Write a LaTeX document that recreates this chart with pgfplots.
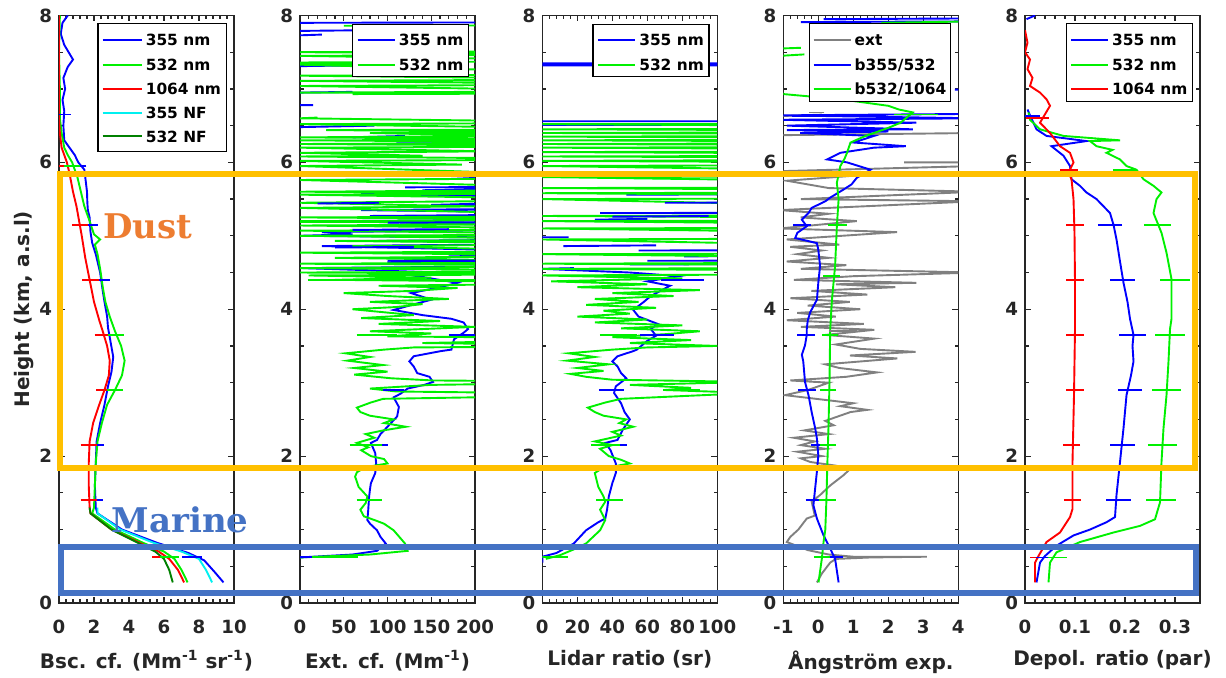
\documentclass[border=0pt]{standalone}
\usepackage{fontspec}
\setmainfont{DejaVu Sans}
\newfontfamily\serifbold{DejaVu Serif}
\usepackage{pgfplots}
\pgfplotsset{compat=1.18}
\definecolor{axc}{RGB}{38,38,38}
\definecolor{mblue}{RGB}{0,0,255}
\definecolor{mgreen}{RGB}{0,240,0}
\definecolor{mred}{RGB}{255,0,0}
\definecolor{mcyan}{RGB}{0,240,240}
\definecolor{mdkgreen}{RGB}{0,128,0}
\definecolor{mgray}{RGB}{128,128,128}
\definecolor{boxorange}{RGB}{255,192,0}
\definecolor{boxblue}{RGB}{68,114,196}
\definecolor{dusttxt}{RGB}{237,125,49}
\newcommand{\legfont}{\fontsize{7.7}{9}\selectfont\bfseries}
% legend frame: x-left, x-right, y-top, y-bottom (pt, relative to upper right corner of axis)
\newcommand{\legframe}[4]{\draw[draw=black, fill=white, line width=0.6pt] ([xshift=#1pt,yshift=#3pt]rel axis cs:1,1) rectangle ([xshift=#2pt,yshift=#4pt]rel axis cs:1,1);}
% legend entry: colour, line start, line end, text start, y, text
\newcommand{\legentry}[6]{\draw[#1, line width=1pt] ([xshift=#2pt,yshift=#5pt]rel axis cs:1,1) -- ([xshift=#3pt,yshift=#5pt]rel axis cs:1,1);
  \node[anchor=base west, inner sep=0pt, font=\legfont, text=black] at ([xshift=#4pt,yshift=#5pt-2.8pt]rel axis cs:1,1) {#6};}
\pgfplotsset{
  panel/.style={
    scale only axis, width=87.5pt, height=293.75pt, anchor=south west,
    ymin=0, ymax=8, ytick={0,2,4,6,8}, minor y tick num=3, minor x tick num=4,
    tick align=inside,
    axis line style={draw=axc, line width=0.7pt},
    every tick/.style={draw=axc, line width=0.6pt},
    major tick length=3pt, minor tick length=1.8pt,
    tick label style={font=\fontsize{9.1}{10}\selectfont\bfseries, text=axc},
    xticklabel shift=5pt,
    label style={font=\fontsize{10}{12}\selectfont\bfseries, text=axc},
    xlabel style={yshift=-1.5pt},
    ylabel shift=-4pt,
    /pgf/number format/assume math mode=true,
    unbounded coords=jump,
    every axis plot/.append style={line width=0.95pt},
  },
  eb/.style={forget plot, draw=none, mark=none,
    error bars/.cd, x dir=both, x explicit,
    error bar style={draw=#1, line width=0.85pt, solid},
    error mark options={draw=#1, mark size=3.6pt, line width=0.85pt}},
}
\begin{document}
\begin{tikzpicture}
\path[use as bounding box] (0,0) rectangle (613pt,339pt);
% ---------------- Panel 1: backscatter ----------------
\begin{axis}[panel, at={(29.5pt,37.5pt)}, xmin=0, xmax=10, xtick={0,2,4,6,8,10},
  xlabel={Bsc. cf. (Mm\textsuperscript{-1} sr\textsuperscript{-1})},
  ylabel={Height (km, a.s.l)}]
\addplot[mblue] coordinates {(9.4,0.28)(8.9,0.42)(8.3,0.58)(7.4,0.68)(5.6,0.82)(3.6,1.0)(2.2,1.22)(2.1,1.3)(2.05,1.6)(2.1,1.9)(2.15,2.2)(2.35,2.45)(2.6,2.7)(2.8,2.95)(3.0,3.15)(3.1,3.35)(2.95,3.55)(2.8,3.75)(2.75,3.9)(2.6,4.1)(2.5,4.25)(2.35,4.5)(2.2,4.65)(2.1,4.75)(1.9,4.9)(1.8,5.05)(1.75,5.25)(1.65,5.35)(1.62,5.45)(1.6,5.6)(1.55,5.7)(1.5,5.8)(1.45,5.9)(1.1,6.0)(0.9,6.1)(0.6,6.2)(0.3,6.3)(0.25,6.5)(0.3,6.7)(0.2,6.85)(0.35,7.0)(0.25,7.15)(0.5,7.3)(0.8,7.4)(0.55,7.5)(0.3,7.6)(0.1,7.75)(0.2,7.9)(0.5,8.0)};
\addplot[mgreen] coordinates {(7.35,0.28)(7.0,0.45)(6.6,0.6)(6.0,0.7)(4.8,0.82)(3.2,1.0)(1.9,1.22)(2.0,1.3)(2.05,1.6)(2.1,1.9)(2.2,2.2)(2.45,2.45)(2.75,2.7)(3.2,2.9)(3.6,3.1)(3.75,3.3)(3.55,3.5)(3.2,3.7)(2.9,3.9)(2.65,4.1)(2.5,4.3)(2.35,4.55)(2.2,4.75)(2.05,4.88)(2.35,4.95)(2.0,5.02)(1.75,5.2)(1.45,5.4)(1.25,5.6)(1.05,5.8)(0.75,6.0)(0.5,6.1)(0.3,6.2)(0.15,6.4)(0.05,6.6)(0.05,7.0)(0.0,7.5)(0.05,8.0)};
\addplot[mred] coordinates {(7.15,0.28)(6.8,0.45)(6.3,0.6)(5.7,0.7)(4.6,0.82)(3.0,1.0)(1.8,1.22)(1.75,1.3)(1.7,1.6)(1.7,1.9)(1.75,2.2)(1.95,2.45)(2.3,2.7)(2.6,2.9)(2.85,3.1)(2.9,3.3)(2.75,3.5)(2.5,3.7)(2.3,3.85)(2.0,4.1)(1.75,4.4)(1.5,4.7)(1.3,5.0)(1.15,5.2)(1.0,5.4)(0.8,5.6)(0.6,5.85)(0.45,6.0)(0.3,6.1)(0.15,6.2)(0.05,6.4)(0.0,6.6)(0.0,7.0)(0.0,7.5)(0.0,8.0)};
\addplot[mcyan] coordinates {(8.75,0.28)(8.4,0.45)(8.0,0.6)(7.0,0.7)(5.4,0.82)(3.5,1.0)(2.2,1.22)(2.2,1.3)};
\addplot[mdkgreen] coordinates {(6.5,0.28)(6.3,0.45)(6.0,0.6)(5.5,0.7)(4.5,0.82)(3.0,1.0)(1.8,1.22)(1.75,1.3)};
\addplot[eb=mblue] coordinates {(7.6,0.63) +- (0.15,0) (2.05,1.4) +- (0.05,0) (2.1,2.15) +- (0.05,0) (2.75,2.9) +- (0.05,0) (2.85,3.65) +- (0.05,0) (2.43,4.4) +- (0.05,0) (1.76,5.15) +- (0.05,0) (1.1,5.95) +- (0.05,0) (0.2,6.65) +- (0.05,0)};
\addplot[eb=mred] coordinates {(5.85,0.63) +- (0.1,0) (1.7,1.4) +- (0.05,0) (1.7,2.15) +- (0.05,0) (2.6,2.9) +- (0.05,0) (2.5,3.65) +- (0.05,0) (1.8,4.4) +- (0.05,0) (1.2,5.15) +- (0.05,0) (0.45,5.95) +- (0.05,0)};
\addplot[eb=mgreen] coordinates {(6.3,0.63) +- (0.12,0) (3.2,2.9) +- (0.05,0) (3.25,3.65) +- (0.05,0) (0.75,5.95) +- (0.05,0)};
\legframe{-68}{-3.8}{-4.15}{-68}
\legentry{mblue}{-65.65}{-46.15}{-44.3}{-12.4}{355 nm}
\legentry{mgreen}{-65.65}{-46.15}{-44.3}{-24.65}{532 nm}
\legentry{mred}{-65.65}{-46.15}{-44.3}{-36.8}{1064 nm}
\legentry{mcyan}{-65.65}{-46.15}{-44.3}{-48.8}{355 NF}
\legentry{mdkgreen}{-65.65}{-46.15}{-44.3}{-60.5}{532 NF}
\coordinate (dustpos) at (axis cs:5.06,5.13);
\coordinate (marpos) at (axis cs:6.91,1.13);
\coordinate (oTL) at (axis cs:0.07,5.84);
\coordinate (bTL) at (axis cs:0.1,0.76);
\end{axis}
% ---------------- Panel 2: extinction ----------------
\begin{axis}[panel, at={(150pt,37.5pt)}, xmin=0, xmax=200, xtick={0,50,100,150,200},
  xlabel={Ext. cf. (Mm\textsuperscript{-1})}]
\addplot[mblue] coordinates {(0,0.62)(30,0.64)(60,0.66)(88,0.71)(98,0.81)(92,0.9)(88,0.99)(80,1.08)(77,1.13)(78,1.27)(79,1.45)(80,1.55)(81,1.63)(86,1.77)(87,1.9)(86,2.04)(81,2.18)(88,2.22)(92,2.3)(100,2.4)(111,2.54)(113,2.67)(107,2.8)(115,2.85)(123,2.92)(142,2.97)(152,3.01)(148,3.08)(134,3.13)(130,3.22)(125,3.29)(130,3.36)(161,3.43)(173,3.45)(176,3.59)(187,3.68)(192,3.73)(187,3.82)(173,3.87)(140,3.92)(107,3.99)(125,4.05)(150,4.13)(127,4.22)(160,4.3)(180,4.36)(134,4.45)(160,4.5)(3,4.56)(400,4.6)(100,4.64)(400,4.68)(170,4.72)(400,4.76)(25,4.86)(400,4.9)(90,4.93)(400,4.96)(0,5.0)(60,5.02)(25,5.05)(400,5.1)(45,5.2)(400,5.23)(80,5.27)(400,5.3)(70,5.35)(400,5.38)(150,5.42)(400,5.5)(70,5.57)(400,5.59)(140,5.62)(400,5.7)(160,5.82)(400,5.85)
 (0,nan)(60,6.34)(120,6.36)(0,nan)(110,6.28)(400,6.3)(0,nan)(0,6.48)(85,6.5)(0,nan)(0,6.78)(15,6.78)(0,nan)(0,6.95)(60,6.96)(0,nan)(0,7.31)(58,7.32)(0,nan)(0,7.73)(25,7.74)(0,nan)(0,7.79)(80,7.8)(0,nan)(0,7.9)(400,7.91)};
\addplot[mgreen] coordinates {(0,0.62)(40,0.64)(80,0.66)(123,0.71)(120,0.81)(107,0.99)(96,1.08)(85,1.13)(73,1.18)(69,1.27)(75,1.36)(77,1.45)(67,1.58)(63,1.72)(65,1.78)(75,1.85)(100,1.9)(96,1.96)(81,2.0)(70,2.08)(78,2.12)(65,2.18)(85,2.25)(75,2.3)(95,2.35)(121,2.4)(96,2.45)(107,2.5)(80,2.55)(69,2.6)(65,2.66)(81,2.73)(95,2.78)(400,2.84)(110,2.88)(80,2.92)(150,2.97)(400,3.01)(152,3.03)(104,3.06)(62,3.11)(100,3.15)(62,3.2)(95,3.24)(54,3.3)(80,3.35)(52,3.4)(96,3.45)(130,3.48)(400,3.5)(140,3.54)(400,3.6)(100,3.63)(150,3.67)(80,3.7)(120,3.72)(200,3.76)(90,3.8)(160,3.84)(70,3.88)(130,3.92)(95,3.96)(60,4.0)(110,4.03)(140,4.07)(80,4.1)(170,4.14)(100,4.18)(50,4.22)(130,4.25)(180,4.29)(90,4.32)(400,4.36)(40,4.4)(150,4.43)(10,4.46)(400,4.48)
 (0,4.5)(400,4.52)(0,4.56)(400,4.59)(0,4.62)(400,4.64)(40,4.7)(400,4.73)(0,4.77)(350,4.79)(60,4.86)(400,4.89)(40,4.93)(400,4.95)(0,5.0)(400,5.02)(0,5.07)(400,5.09)(0,5.14)(300,5.16)(0,5.2)(400,5.22)(0,5.25)(400,5.27)(0,5.38)(200,5.4)(0,5.45)(400,5.49)(0,5.56)(400,5.58)(0,5.6)(400,5.63)(0,5.76)(400,5.79)(0,5.95)(185,5.97)(0,6.02)(400,6.04)(0,6.08)(140,6.09)(0,6.13)(210,6.15)(0,6.2)(400,6.22)(0,6.25)(400,6.27)(0,6.3)(400,6.31)(0,6.34)(240,6.36)(80,6.4)(400,6.4)(30,6.44)(400,6.45)(0,6.52)(400,6.54)(0,6.6)(20,6.61)
 (0,nan)(60,6.93)(400,6.94)(0,6.95)(400,6.97)(0,7.04)(400,7.06)(0,7.11)(400,7.13)(0,7.18)(400,7.2)(0,7.33)(60,7.34)(0,7.36)(400,7.38)(0,7.45)(400,7.47)(0,7.5)(400,7.52)(0,nan)(50,7.86)(400,7.87)};
\addplot[mblue] coordinates {(100,4.66)(400,4.67)(0,nan)(40,4.84)(130,4.85)(0,nan)(60,5.08)(170,5.09)(0,nan)(100,5.18)(400,5.19)(0,nan)(20,5.44)(90,5.45)(0,nan)(120,5.66)(400,5.67)};
\addplot[eb=mblue] coordinates {(3,0.63) +- (3,0) (79,1.4) +- (2,0) (89,2.15) +- (3,0) (107,2.9) +- (4,0) (185,3.65) +- (7,0) (183,4.4) +- (1.5,0)};
\addplot[eb=mgreen] coordinates {(41,0.63) +- (17,0) (79,1.4) +- (6,0) (75,2.15) +- (10,0) (88,3.65) +- (15,0) (120,4.4) +- (103,0) (49,5.18) +- (43,0)};
\legframe{-61.2}{-3.2}{-4.65}{-30.65}
\legentry{mblue}{-58.65}{-40}{-38.3}{-12.15}{355 nm}
\legentry{mgreen}{-58.65}{-40}{-38.3}{-24.65}{532 nm}
\end{axis}
% ---------------- Panel 3: lidar ratio ----------------
\begin{axis}[panel, at={(271.15pt,37.5pt)}, xmin=0, xmax=100, xtick={0,20,40,60,80,100},
  xlabel={Lidar ratio (sr)}]
\addplot[mblue] coordinates {(0,0.55)(0,0.63)(8,0.68)(18,0.81)(25,0.99)(32,1.1)(36,1.15)(37,1.27)(38,1.45)(40,1.63)(42,1.77)(42,1.9)(39,2.08)(36,2.18)(43,2.22)(46,2.36)(50,2.5)(47,2.6)(45,2.72)(41,2.86)(42,2.95)(48,3.06)(45,3.13)(43,3.22)(40,3.29)(43,3.36)(52,3.43)(54,3.45)(60,3.57)(65,3.64)(62,3.73)(66,3.8)(55,3.9)(52,3.99)(58,4.1)(62,4.18)(73,4.32)(60,4.38)(78,4.45)(50,4.5)(0,4.55)(18,4.56)
 (0,nan)(50,4.61)(400,4.63)(0,nan)(81,4.72)(400,4.74)(0,nan)(12,4.86)(65,4.87)(0,nan)(0,4.98)(15,4.98)(0,nan)(30,5.22)(60,5.23)(0,nan)(33,5.31)(400,5.32)(0,nan)(48,5.56)(400,5.58)(0,nan)(0,6.51)(400,6.51)(0,nan)(0,6.56)(400,6.56)(0,nan)(0,7.32)(400,7.32)(0,nan)(0,7.35)(400,7.35)};
\addplot[mgreen] coordinates {(2,0.6)(10,0.65)(18,0.73)(25,0.81)(33,0.99)(36,1.13)(33,1.27)(36,1.38)(35,1.45)(32,1.58)(30,1.77)(34,1.83)(50,1.9)(45,1.95)(38,2.0)(33,2.1)(40,2.15)(30,2.2)(45,2.28)(40,2.33)(52,2.4)(44,2.45)(48,2.5)(35,2.55)(30,2.6)(26,2.66)(36,2.73)(45,2.78)(120,2.86)(70,2.9)(85,2.93)(50,2.97)(120,3.01)(40,3.04)(25,3.08)(16,3.12)(35,3.16)(20,3.2)(38,3.25)(14,3.3)(30,3.35)(15,3.4)(40,3.45)(60,3.48)(100,3.5)(50,3.54)(85,3.58)(40,3.62)(70,3.66)(90,3.7)(45,3.74)(80,3.78)(30,3.82)(60,3.86)(20,3.9)(50,3.94)(35,3.98)(65,4.02)(25,4.06)(55,4.1)(30,4.14)(75,4.18)(40,4.22)(90,4.26)(20,4.3)(60,4.34)(5,4.38)(80,4.42)(0,4.46)(400,4.5)
 (0,4.55)(400,4.58)(0,4.62)(400,4.65)(0,4.75)(400,4.77)(0,4.95)(400,4.98)(0,5.1)(400,5.12)(0,5.2)(400,5.22)(0,5.27)(400,5.29)(0,5.5)(400,5.52)(0,5.58)(400,5.6)(0,5.65)(400,5.67)(0,5.8)(400,5.82)(0,5.95)(400,5.98)(0,6.02)(400,6.05)(0,6.08)(400,6.1)(0,6.14)(400,6.16)(0,6.2)(400,6.22)(0,6.25)(400,6.27)(0,6.3)(400,6.32)(0,6.35)(400,6.37)(0,6.4)(400,6.42)(0,6.45)(400,6.47)(0,6.52)(400,6.53)};
\addplot[mblue] coordinates {(60,4.66)(400,4.67)(0,nan)(55,4.8)(400,4.81)(0,nan)(40,5.26)(95,5.27)(0,nan)(70,5.45)(400,5.46)};
\addplot[eb=mblue] coordinates {(1,0.63) +- (1,0) (39,1.4) +- (2,0) (40,2.15) +- (4,0) (39.5,2.9) +- (3,0) (65.5,3.65) +- (5.5,0) (80,4.4) +- (8,0)};
\addplot[eb=mgreen] coordinates {(7,0.63) +- (3.5,0) (38.5,1.4) +- (3.5,0) (36,2.15) +- (4,0) (79.5,2.9) +- (6.5,0) (43.5,3.65) +- (6.5,0) (26,5.2) +- (23,0)};
\legframe{-62.2}{-4.2}{-4.65}{-30.65}
\legentry{mblue}{-59.7}{-41.35}{-39.2}{-12.15}{355 nm}
\legentry{mgreen}{-59.7}{-41.35}{-39.2}{-24.65}{532 nm}
\end{axis}
% ---------------- Panel 4: Angstrom ----------------
\begin{axis}[panel, at={(391.65pt,37.5pt)}, xmin=-1, xmax=4, xtick={-1,0,1,2,3,4},
  xlabel={Ångström exp.}]
\addplot[mgray] coordinates {(-0.04,0.28)(0.1,0.4)(0.34,0.55)(0.5,0.6)(1.5,0.62)(3.1,0.63)(1.0,0.63)(0.3,0.66)(-0.3,0.72)(-0.9,0.83)(-0.8,0.9)(-0.57,1.0)(-0.33,1.15)(-0.1,1.19)(-0.19,1.38)(0.05,1.47)(0.34,1.6)(0.72,1.74)(0.92,1.83)(0.5,1.87)(-0.23,1.92)(-0.5,1.97)(0.1,2.0)(-0.6,2.06)(0.2,2.1)(-0.5,2.15)(-0.1,2.2)(-0.7,2.25)(0.3,2.3)(-0.4,2.35)(0.44,2.42)(0.2,2.48)(0.92,2.6)(1.4,2.63)(0.63,2.68)(1.0,2.72)(-0.95,2.83)(-0.3,2.9)(0.3,3.0)(-0.8,3.03)(0.8,3.08)(1.68,3.14)(0.6,3.2)(0.2,3.25)(2.26,3.33)(0.9,3.37)(2.78,3.42)(1.2,3.46)(0.5,3.52)(1.6,3.6)(0.2,3.65)(1.6,3.72)(-0.5,3.76)(1.3,3.8)(-0.9,3.85)(0.5,3.9)(-0.6,3.95)(1.2,4.0)(-0.3,4.05)(0.9,4.1)(-0.8,4.15)(1.4,4.2)(-0.2,4.25)(2.2,4.3)(0.5,4.34)(2.8,4.36)(-0.7,4.4)(1.0,4.45)(4.5,4.5)(-0.5,4.55)(0.8,4.6)(-0.9,4.65)(0.3,4.7)(-0.6,4.75)(0.1,4.8)(-0.8,4.85)(0.6,4.88)(-0.9,4.95)(2.25,5.05)(-1.1,5.1)(1.1,5.2)(-0.5,5.25)(0.3,5.3)(-1.1,5.35)(4.5,5.47)(-0.5,5.5)(4.5,5.6)(0.3,5.65)(-0.9,5.75)(1.9,5.85)(-1.1,5.88)(4.5,5.95)
 (0,nan)(2.45,6.0)(4.5,6.0)(0,nan)(-1.1,6.37)(4.5,6.4)(0,nan)(-1.1,6.63)(0.1,6.65)};
\addplot[mblue] coordinates {(0.58,0.28)(0.48,0.6)(0.34,0.74)(0.15,0.92)(-0.04,1.15)(-0.14,1.33)(-0.09,1.56)(-0.04,1.79)(0.0,2.01)(-0.04,2.24)(-0.09,2.38)(-0.19,2.6)(-0.28,2.83)(-0.38,3.01)(-0.43,3.29)(-0.47,3.38)(-0.38,3.51)(-0.33,3.65)(-0.33,3.73)(-0.3,3.85)(-0.23,3.96)(-0.04,4.13)(0.0,4.36)(0.05,4.59)(0.0,4.81)(-0.04,4.9)(-0.66,4.97)(-0.6,5.04)(-0.33,5.13)(-0.47,5.22)(-0.28,5.31)(-0.19,5.38)(0.2,5.47)(0.34,5.52)(0.72,5.63)(0.95,5.7)(1.1,5.79)(1.49,5.9)(0.82,6.0)(0.25,6.04)(0.63,6.13)(1.59,6.2)(2.5,6.22)(1.01,6.27)(1.59,6.36)(-0.52,6.4)(2.0,6.42)(-0.9,6.44)(2.7,6.45)(-0.9,6.5)(2.8,6.54)(-1.1,6.58)(4.5,6.6)(-1.1,6.64)(4.5,6.66)
 (0,nan)(3.9,6.99)(4.5,7.0)(0,nan)(-0.5,7.91)(4.5,7.92)(0,nan)(0.15,7.95)(4.5,7.96)};
\addplot[mgreen] coordinates {(0.006,0.28)(0.1,0.6)(0.15,0.83)(0.2,1.0)(0.23,1.38)(0.26,1.92)(0.29,2.38)(0.32,3.01)(0.34,3.73)(0.39,4.13)(0.48,4.59)(0.53,5.13)(0.58,5.5)(0.53,5.72)(0.63,5.95)(0.75,6.05)(0.82,6.13)(0.92,6.27)(1.3,6.35)(1.59,6.4)(2.0,6.47)(2.35,6.54)(2.7,6.68)(2.3,6.72)(2.0,6.77)(0.63,6.86)(-1,6.93)(-1.1,7.0)
 (0,nan)(-1.1,7.45)(-0.4,7.47)(0,nan)(-1.1,7.55)(-0.5,7.56)(0,nan)(1.8,7.9)(4.5,7.92)};
\addplot[eb=mgray] coordinates {(0.7,3.7) +- (0.2,0) (-0.04,6.68) +- (0.01,0)};
\addplot[eb=mblue] coordinates {(0.45,0.63) +- (0.06,0) (-0.12,1.4) +- (0.04,0) (0.02,2.15) +- (0.03,0) (-0.33,2.9) +- (0.05,0) (-0.35,3.65) +- (0.05,0) (-0.47,5.15) +- (0.05,0) (-0.5,6.63) +- (0.06,0)};
\addplot[eb=mgreen] coordinates {(0.1,0.63) +- (0.02,0) (0.26,1.4) +- (0.03,0) (0.27,2.15) +- (0.03,0) (0.28,2.9) +- (0.03,0) (0.34,3.65) +- (0.03,0) (0.38,4.45) +- (0.03,0) (0.55,5.15) +- (0.06,0) (2.8,6.65) +- (0.42,0)};
\legframe{-74.5}{-4}{-4.15}{-43}
\legentry{mgray}{-72.3}{-53.65}{-52}{-12.4}{ext}
\legentry{mblue}{-72.3}{-53.65}{-52}{-24.65}{b355/532}
\legentry{mgreen}{-72.3}{-53.65}{-52}{-36.8}{b532/1064}
\end{axis}
% ---------------- Panel 5: depolarization ----------------
\begin{axis}[panel, at={(512.5pt,37.5pt)}, xmin=0, xmax=0.35, xtick={0,0.1,0.2,0.3},
  xlabel={Depol. ratio (par)}]
\addplot[mblue] coordinates {(0.023,0.28)(0.03,0.55)(0.04,0.64)(0.063,0.78)(0.097,0.92)(0.13,1.0)(0.163,1.1)(0.18,1.17)(0.183,1.47)(0.19,1.92)(0.197,2.38)(0.203,2.83)(0.212,3.1)(0.217,3.29)(0.215,3.5)(0.217,3.65)(0.21,3.87)(0.205,4.1)(0.197,4.36)(0.19,4.65)(0.183,4.95)(0.177,5.15)(0.17,5.31)(0.143,5.5)(0.123,5.59)(0.11,5.68)(0.093,5.77)(0.09,5.95)(0.077,6.09)(0.053,6.22)(0.123,6.29)(0.043,6.36)(0.023,6.45)(0.01,6.64)(0.005,6.72)
 (0,nan)(0.003,7.95)(0.02,8.0)};
\addplot[mgreen] coordinates {(0.047,0.28)(0.05,0.55)(0.063,0.69)(0.11,0.83)(0.177,0.96)(0.23,1.05)(0.26,1.14)(0.27,1.37)(0.273,1.92)(0.277,2.38)(0.283,2.83)(0.287,3.29)(0.29,3.73)(0.293,3.87)(0.293,4.41)(0.283,4.77)(0.273,5.04)(0.257,5.31)(0.263,5.5)(0.273,5.59)(0.257,5.68)(0.237,5.77)(0.223,5.9)(0.203,5.95)(0.19,6.04)(0.163,6.13)(0.175,6.17)(0.143,6.22)(0.13,6.29)(0.19,6.3)(0.077,6.36)(0.03,6.45)(0.01,6.58)(0.007,6.68)};
\addplot[mred] coordinates {(0.02,0.28)(0.02,0.55)(0.027,0.64)(0.043,0.83)(0.07,0.96)(0.09,1.17)(0.095,1.28)(0.095,1.92)(0.098,2.83)(0.1,3.73)(0.1,4.36)(0.099,5.04)(0.097,5.5)(0.093,5.77)(0.087,5.86)(0.097,6.0)(0.09,6.13)(0.07,6.22)(0.05,6.4)(0.03,6.54)(0.05,6.77)(0.043,6.86)(0.03,6.95)(0.01,7.04)(0.015,7.15)(0.005,7.27)(0.01,7.4)(0,7.5)(0.005,7.63)(0,7.8)};
\addplot[eb=mred] coordinates {(0.027,0.62) +- (0.003,0) (0.095,1.4) +- (0.003,0) (0.093,2.15) +- (0.003,0) (0.1,2.9) +- (0.003,0) (0.1,3.65) +- (0.003,0) (0.1,4.4) +- (0.003,0) (0.1,5.15) +- (0.003,0) (0.088,5.9) +- (0.003,0) (0.025,6.6) +- (0.008,0)};
\addplot[eb=mblue] coordinates {(0.04,0.62) +- (0.003,0) (0.187,1.4) +- (0.01,0) (0.195,2.15) +- (0.01,0) (0.21,2.9) +- (0.01,0) (0.215,3.65) +- (0.012,0) (0.195,4.4) +- (0.01,0) (0.17,5.15) +- (0.01,0) (0.01,6.63) +- (0.005,0)};
\addplot[eb=mgreen] coordinates {(0.065,0.62) +- (0.004,0) (0.272,1.4) +- (0.015,0) (0.275,2.15) +- (0.015,0) (0.283,2.9) +- (0.015,0) (0.29,3.65) +- (0.015,0) (0.3,4.4) +- (0.015,0) (0.265,5.15) +- (0.013,0) (0.2,5.9) +- (0.01,0)};
\legframe{-66.65}{-3.65}{-4.15}{-43}
\legentry{mblue}{-64.5}{-45.8}{-44.15}{-12.4}{355 nm}
\legentry{mgreen}{-64.5}{-45.8}{-44.15}{-24.65}{532 nm}
\legentry{mred}{-64.5}{-45.8}{-44.15}{-36.8}{1064 nm}
\coordinate (oBR) at (axis cs:0.34,1.84);
\coordinate (bBR) at (axis cs:0.342,0.14);
\end{axis}
% ---------------- Annotations ----------------
\draw[boxorange, line width=3pt] (oTL) rectangle (oBR);
\draw[boxblue, line width=2.85pt] (bTL) rectangle (bBR);
\node[text=dusttxt, font=\serifbold\bfseries\fontsize{17}{17}\selectfont] at (dustpos) {Dust};
\node[text=boxblue, font=\serifbold\bfseries\fontsize{17}{17}\selectfont] at (marpos) {Marine};
\end{tikzpicture}
\end{document}
